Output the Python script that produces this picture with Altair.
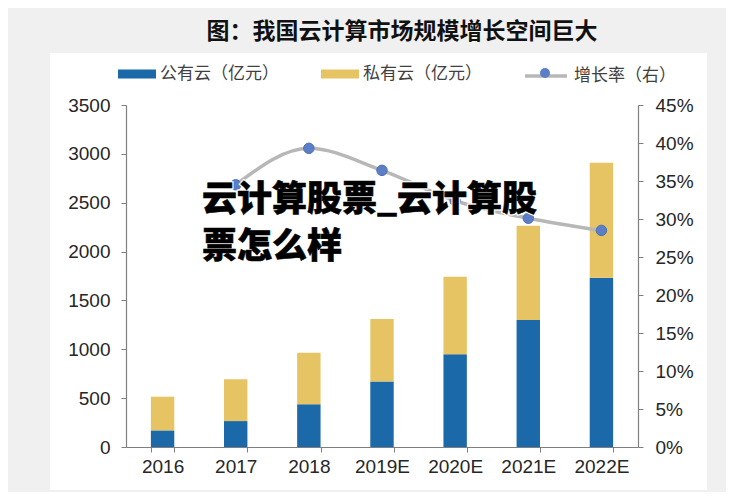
import altair as alt
import pandas as pd

years = ["2016", "2017", "2018", "2019E", "2020E", "2021E", "2022E"]
public_cloud = [170, 265, 437, 670, 950, 1300, 1731]
private_cloud = [345, 428, 528, 640, 793, 965, 1179]
rate_years = ["2017", "2018", "2019E", "2020E", "2021E", "2022E"]
growth_rate = [0.345, 0.393, 0.364, 0.324, 0.301, 0.285]
series_names = ["公有云（亿元）", "私有云（亿元）"]
rate_name = "增长率（右）"
dot_name = "增长率"
title_text = "图：我国云计算市场规模增长空间巨大"
watermark_lines = ["云计算股票_云计算股", "票怎么样"]
left_ticks = [0, 500, 1000, 1500, 2000, 2500, 3000, 3500]
right_ticks = [i / 100 for i in range(0, 50, 5)]

BLUE = "#1b69a8"
YELLOW = "#e6c464"
LINE_GRAY = "#b7b7b7"
DOT_BLUE = "#5b7ec6"
AXIS_GRAY = "#7f7f7f"
NUM_FONT = "Liberation Sans"
CJK_FONT = "Noto Sans CJK SC"

bars_df = pd.DataFrame({
    "年份": years * 2,
    "类型": [series_names[0]] * len(years) + [series_names[1]] * len(years),
    "规模": public_cloud + private_cloud,
    "顺序": [0] * len(years) + [1] * len(years),
})
rate_df = pd.DataFrame({
    "年份": rate_years,
    "增长率": growth_rate,
    "系列": [rate_name] * len(rate_years),
    "点": [dot_name] * len(rate_years),
})

x_scale = alt.Scale(domain=years, paddingInner=0.68, paddingOuter=0.34)
x_axis = alt.Axis(
    title=None, labelAngle=0, labelFont=NUM_FONT, labelFontSize=19,
    labelColor="#262626", domainColor=AXIS_GRAY, tickColor=AXIS_GRAY,
    tickSize=5, tickBand="extent", labelPadding=5, grid=False, domainWidth=1.2,
    zindex=1,
)

bg = alt.Chart(alt.Data(values=[{}])).mark_rect(color="white").encode(
    x=alt.value(-76), x2=alt.value(581), y=alt.value(-52), y2=alt.value(385)
)

bars = alt.Chart(bars_df).mark_bar().encode(
    x=alt.X("年份:N", sort=years, scale=x_scale, axis=x_axis),
    y=alt.Y(
        "规模:Q", stack="zero",
        scale=alt.Scale(domain=[0, 3500], nice=False),
        axis=alt.Axis(
            title=None, orient="left", values=left_ticks, format="d",
            labelFont=NUM_FONT, labelFontSize=19, labelColor="#262626",
            domainColor=AXIS_GRAY, tickColor=AXIS_GRAY, tickSize=5,
            labelPadding=11, grid=False, domainWidth=1.2, zindex=1,
        ),
    ),
    color=alt.Color(
        "类型:N",
        scale=alt.Scale(domain=series_names, range=[BLUE, YELLOW]),
        legend=alt.Legend(
            title=None, orient="none", legendX=-8, legendY=-50, direction="horizontal",
            symbolType="M-1,-0.24H1V0.24H-1Z", symbolSize=1444, symbolStrokeWidth=0,
            labelFont=CJK_FONT, labelFontSize=17, labelColor="#404040",
            labelOffset=4, columnPadding=42, padding=0,
        ),
    ),
    order=alt.Order("顺序:Q"),
)

right_y = alt.Y(
    "增长率:Q",
    scale=alt.Scale(domain=[0, 0.45], nice=False),
    axis=alt.Axis(
        title=None, orient="right", values=right_ticks, format=".0%",
        labelFont=NUM_FONT, labelFontSize=19, labelColor="#262626",
        domainColor=AXIS_GRAY, tickColor=AXIS_GRAY, tickSize=5,
        labelPadding=12, grid=False, domainWidth=1.2, zindex=1,
    ),
)

line = alt.Chart(rate_df).mark_line(interpolate="monotone", strokeWidth=3.5).encode(
    x=alt.X("年份:N", sort=years, scale=x_scale, axis=x_axis),
    y=right_y,
    stroke=alt.Stroke(
        "系列:N",
        scale=alt.Scale(domain=[rate_name], range=[LINE_GRAY]),
        legend=alt.Legend(
            title=None, orient="none", legendX=397, legendY=-52,
            symbolType="M-1,0H1", symbolSize=1764, symbolStrokeWidth=3.5,
            labelFont=CJK_FONT, labelFontSize=17, labelColor="#404040",
            labelOffset=5, padding=0,
        ),
    ),
)

points = alt.Chart(rate_df).mark_circle(size=110, opacity=1, stroke="#4d6fb3", strokeWidth=1).encode(
    x=alt.X("年份:N", sort=years, scale=x_scale, axis=x_axis),
    y=right_y,
    fill=alt.Fill(
        "点:N",
        scale=alt.Scale(domain=[dot_name], range=[DOT_BLUE]),
        legend=alt.Legend(
            title=None, orient="none", legendX=414, legendY=-37,
            symbolType="circle", symbolSize=100, symbolStrokeWidth=0,
            labelExpr="''", padding=0,
        ),
    ),
)

title = alt.Chart(alt.Data(values=[{"t": title_text}])).mark_text(
    font=CJK_FONT, fontSize=23, fontWeight="bold", color="#111111",
    align="center", baseline="middle",
).encode(x=alt.value(276), y=alt.value(-73), text="t:N")

wm_text_value = "\n".join(watermark_lines)
wm_data = alt.Data(values=[{"t": wm_text_value}])
wm_halo = alt.Chart(wm_data).mark_text(
    font=CJK_FONT, fontSize=35, fontWeight=900, color="white",
    stroke="white", strokeWidth=3, align="left", baseline="middle",
    lineBreak="\n", lineHeight=47,
).encode(x=alt.value(76), y=alt.value(95), text="t:N")
wm_text = alt.Chart(wm_data).mark_text(
    font=CJK_FONT, fontSize=35, fontWeight=900, color="#000000",
    stroke="#000000", strokeWidth=0.6,
    align="left", baseline="middle", lineBreak="\n", lineHeight=47,
).encode(x=alt.value(76), y=alt.value(95), text="t:N")

chart = alt.layer(
    bg, bars, alt.layer(line, points), title, wm_halo, wm_text
).resolve_scale(y="independent", fill="independent", stroke="independent").properties(
    width=512, height=342,
    autosize=alt.AutoSizeParams(type="none"),
    padding={"left": 118, "top": 97, "right": 88, "bottom": 45},
).configure(background="#f0f0f0").configure_view(stroke=None)

chart.save("out.html", embed_options={"renderer": "svg", "actions": False})
